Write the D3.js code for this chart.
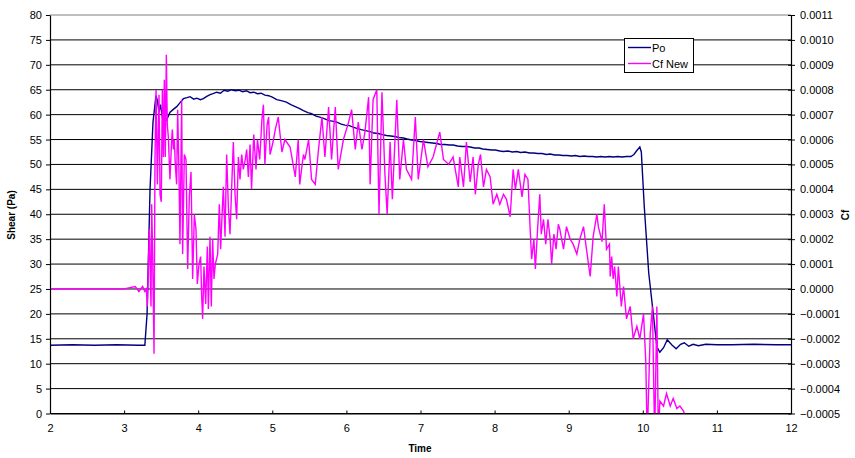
<!DOCTYPE html>
<html>
<head>
<meta charset="utf-8">
<script src="https://cdn.jsdelivr.net/npm/d3@7"></script>
<style>
  html, body { margin: 0; padding: 0; background: #fff; }
  text { font-family: Arial, "Liberation Sans", sans-serif; }
</style>
</head>
<body>
<svg id="chart" width="855" height="458"></svg>
<script>
// ---------- DATA ----------
const xTicks = [2, 3, 4, 5, 6, 7, 8, 9, 10, 11, 12];
const leftTicks = [0, 5, 10, 15, 20, 25, 30, 35, 40, 45, 50, 55, 60, 65, 70, 75, 80];
const rightTicks = [-0.0005, -0.0004, -0.0003, -0.0002, -0.0001, 0, 0.0001, 0.0002, 0.0003, 0.0004, 0.0005, 0.0006, 0.0007, 0.0008, 0.0009, 0.0010, 0.0011];

const poTime = [2.0, 2.3, 2.6, 2.9, 3.2, 3.28, 3.31, 3.35, 3.39, 3.43, 3.45, 3.47, 3.49, 3.53, 3.57, 3.62, 3.66, 3.71, 3.75, 3.80,
  3.85, 3.89, 3.94, 3.98, 4.03, 4.07, 4.11, 4.16, 4.20, 4.25, 4.30, 4.35, 4.40, 4.45, 4.50, 4.55, 4.60, 4.65, 4.70, 4.75,
  4.80, 4.85, 4.90, 4.95, 5.00, 5.06, 5.12, 5.19, 5.25, 5.31, 5.37, 5.42, 5.48, 5.53, 5.59, 5.64, 5.70, 5.76, 5.81, 5.87,
  5.93, 5.98, 6.04, 6.09, 6.15, 6.20, 6.26, 6.32, 6.37, 6.43, 6.48, 6.54, 6.60, 6.65, 6.71, 6.77, 6.82, 6.88, 6.93, 6.99,
  7.05, 7.10, 7.16, 7.22, 7.27, 7.33, 7.39, 7.44, 7.50, 7.56, 7.62, 7.67, 7.73, 7.79, 7.84, 7.90, 7.96, 8.01, 8.07, 8.12,
  8.18, 8.24, 8.30, 8.35, 8.41, 8.47, 8.53, 8.58, 8.64, 8.70, 8.75, 8.81, 8.87, 8.92, 8.98, 9.04, 9.09, 9.15, 9.21, 9.26,
  9.32, 9.38, 9.43, 9.49, 9.55, 9.60, 9.66, 9.72, 9.78, 9.84, 9.88, 9.92, 9.96, 9.98, 10.02, 10.08, 10.14, 10.19, 10.23, 10.28,
  10.33, 10.39, 10.45, 10.51, 10.56, 10.62, 10.68, 10.75, 10.85, 11.0, 11.2, 11.5, 11.8, 12.0];
const poValues = [13.7, 13.8, 13.7, 13.8, 13.7, 13.7, 20, 45, 58.5, 63.8, 62.8, 60.5, 62, 58.3, 58.8, 60.5, 61, 61.6, 62.3, 63.2,
  63.4, 63.6, 63.1, 63.3, 63.0, 63.2, 63.6, 64.0, 64.2, 64.5, 64.3, 64.9, 64.7, 65.0, 64.8, 64.9, 64.6, 64.8, 64.4, 64.5,
  64.2, 64.3, 63.9, 63.8, 63.5, 63.0, 62.8, 62.5, 62.0, 61.6, 61.2, 60.8, 60.4, 60.2, 59.7, 59.5, 59.2, 58.8, 58.7, 58.5,
  58.1, 57.9, 57.8, 57.5, 57.2, 57.0, 56.8, 56.6, 56.3, 56.2, 56.0, 55.8, 55.7, 55.6, 55.4, 55.3, 55.1, 54.9, 54.8, 54.6,
  54.5, 54.4, 54.3, 54.2, 54.0, 54.0, 53.9, 53.9, 53.7, 53.6, 53.6, 53.5, 53.3, 53.3, 53.1, 53.0, 52.9, 52.9, 52.7, 52.6,
  52.7, 52.5, 52.6, 52.4, 52.5, 52.3, 52.3, 52.2, 52.2, 52.0, 52.1, 51.9, 51.9, 51.8, 51.8, 51.7, 51.8, 51.6, 51.7, 51.6,
  51.6, 51.5, 51.6, 51.5, 51.6, 51.5, 51.6, 51.5, 51.6, 51.6, 52.0, 52.8, 53.5, 52.5, 41.5, 28.2, 20.2, 13.4, 12.3, 13.2,
  14.8, 13.8, 13.0, 13.9, 14.2, 13.5, 13.9, 13.6, 13.9, 13.8, 13.8, 13.9, 13.8, 13.8];

const cfTime = [2.00, 2.50, 3.00, 3.15, 3.20, 3.25, 3.28, 3.30, 3.314, 3.340, 3.363, 3.372, 3.386, 3.404, 3.417, 3.431, 3.449, 3.471, 3.485, 3.502,
  3.516, 3.530, 3.543, 3.556, 3.570, 3.583, 3.597, 3.619, 3.642, 3.651, 3.665, 3.678, 3.691, 3.709, 3.723, 3.741, 3.754, 3.777, 3.790, 3.813,
  3.835, 3.858, 3.880, 3.903, 3.925, 3.948, 3.970, 3.988, 4.011, 4.033, 4.047, 4.060, 4.078, 4.101, 4.123, 4.137, 4.159, 4.177, 4.195, 4.213,
  4.231, 4.263, 4.285, 4.303, 4.321, 4.339, 4.362, 4.384, 4.407, 4.429, 4.452, 4.474, 4.497, 4.519, 4.542, 4.564, 4.587, 4.609, 4.636, 4.654,
  4.677, 4.70, 4.72, 4.75, 4.78, 4.80, 4.83, 4.86, 4.88, 4.90, 4.93, 4.95, 4.97, 5.01, 5.04, 5.08, 5.13, 5.17, 5.24, 5.31,
  5.35, 5.37, 5.42, 5.44, 5.49, 5.53, 5.58, 5.62, 5.67, 5.71, 5.76, 5.80, 5.85, 5.89, 5.96, 6.03, 6.07, 6.12, 6.16, 6.21,
  6.25, 6.30, 6.32, 6.36, 6.41, 6.44, 6.48, 6.52, 6.55, 6.59, 6.62, 6.68, 6.72, 6.77, 6.81, 6.88, 6.93, 6.97, 7.04, 7.10,
  7.17, 7.26, 7.31, 7.38, 7.44, 7.51, 7.53, 7.58, 7.62, 7.67, 7.71, 7.74, 7.78, 7.81, 7.85, 7.89, 7.94, 7.98, 8.03, 8.07,
  8.12, 8.16, 8.21, 8.25, 8.28, 8.32, 8.37, 8.41, 8.45, 8.48, 8.50, 8.53, 8.55, 8.58, 8.61, 8.63, 8.66, 8.69, 8.72, 8.75,
  8.77, 8.80, 8.83, 8.86, 8.88, 8.93, 8.97, 9.02, 9.06, 9.11, 9.15, 9.20, 9.24, 9.29, 9.33, 9.38, 9.40, 9.45, 9.48, 9.51,
  9.55, 9.56, 9.58, 9.60, 9.62, 9.65, 9.67, 9.71, 9.74, 9.78, 9.83, 9.87, 9.92, 9.96, 10.01, 10.04, 10.06, 10.10, 10.13, 10.16,
  10.19, 10.21, 10.23, 10.28, 10.32, 10.37, 10.41, 10.46, 10.50, 10.55, 10.58];
const cfValues = [0, 0, 0, 0.00001, -0.00001, 0.00001, -0.00001, 0, -0.00007, 0.00024, -0.00007, 0.00034, 0.00013, -0.00026, 0.00052, 0.00080, 0.00042, 0.00078, 0.00038, 0.00035,
  0.00080, 0.00053, 0.00084, 0.00053, 0.00094, 0.00066, 0.00061, 0.00044, 0.00060, 0.00064, 0.00056, 0.00060, 0.00050, 0.00042, 0.00072, 0.00046, 0.00018, 0.00076, 0.00014, 0.00054,
  0.00052, 0.00008, 0.00037, 0.00047, 0.00004, 0.00030, 0.00024, 0.00002, 0.00010, 0.00013, -0.00003, -0.00012, 0.00009, -0.00006, 0.00017, -0.00008, 0.00021, -0.00007, 0.00020, 0.00004,
  0.00010, 0.00014, 0.00034, 0.00016, 0.00029, 0.00041, 0.00021, 0.00054, 0.00033, 0.00022, 0.00041, 0.00059, 0.00038, 0.00028, 0.00053, 0.00044, 0.00054, 0.00048, 0.00052, 0.00056,
  0.00045, 0.00058, 0.00040, 0.00062, 0.00048, 0.00060, 0.00052, 0.00068, 0.00074, 0.00050, 0.00066, 0.00069, 0.00054, 0.00059, 0.00064, 0.00069, 0.00055, 0.00060, 0.00057, 0.00045,
  0.00060, 0.00042, 0.00054, 0.00052, 0.00060, 0.00044, 0.00042, 0.00055, 0.00069, 0.00053, 0.00073, 0.00052, 0.00073, 0.00048, 0.00060, 0.00067, 0.00072, 0.00056, 0.00067, 0.00056,
  0.00063, 0.00077, 0.00042, 0.00076, 0.00080, 0.00030, 0.00079, 0.00046, 0.00030, 0.00059, 0.00036, 0.00076, 0.00044, 0.00060, 0.00048, 0.00044, 0.00069, 0.00044, 0.00060, 0.00049,
  0.00053, 0.00063, 0.00052, 0.00050, 0.00053, 0.00041, 0.00053, 0.00041, 0.00059, 0.00043, 0.00053, 0.00038, 0.00050, 0.00054, 0.00041, 0.00048, 0.00045, 0.00034, 0.00038, 0.00034,
  0.00038, 0.00036, 0.00029, 0.00048, 0.00040, 0.00048, 0.00037, 0.00046, 0.00044, 0.00024, 0.00012, 0.00020, 0.00008, 0.00024, 0.00038, 0.00022, 0.00028, 0.00018, 0.00028, 0.00020,
  0.00010, 0.00022, 0.00016, 0.00026, 0.00024, 0.00016, 0.00025, 0.00020, 0.00018, 0.00014, 0.00020, 0.00025, 0.00016, 0.00005, 0.00021, 0.00030, 0.00025, 0.00019, 0.00034, 0.00016,
  0.00018, 0.00005, 0.00013, 0.00004, 0.00009, -0.00003, 0.00009, -0.00007, 0.00001, -0.00012, -0.00007, -0.00020, -0.00015, -0.00020, -0.00010, -0.00029, -0.00060, -0.00018, -0.00007, -0.00060,
  -0.00007, -0.00060, -0.00045, -0.00047, -0.00042, -0.00047, -0.00044, -0.00048, -0.00047, -0.00049, -0.00052];

const seriesNames = ["Po", "Cf New"];
const seriesColors = ["#000080", "#FF00FF"];

// ---------- LAYOUT ----------
const svg = d3.select("#chart");
const plot = { left: 50, right: 791, top: 15, bottom: 413.5 };

const x = d3.scaleLinear().domain([2, 12]).range([plot.left, plot.right]);
const yL = d3.scaleLinear().domain([0, 80]).range([plot.bottom, plot.top]);
const yR = d3.scaleLinear().domain([-0.0005, 0.0011]).range([plot.bottom, plot.top]);

// gridlines
svg.append("g").selectAll("line").data(leftTicks).join("line")
  .attr("x1", plot.left).attr("x2", plot.right)
  .attr("y1", d => yL(d)).attr("y2", d => yL(d))
  .attr("stroke", d => d === 80 ? "#808080" : "#000")
  .attr("stroke-width", 1);

// clip
svg.append("defs").append("clipPath").attr("id", "clip")
  .append("rect").attr("x", plot.left).attr("y", plot.top)
  .attr("width", plot.right - plot.left).attr("height", plot.bottom - plot.top);

const g = svg.append("g").attr("clip-path", "url(#clip)");

const poData = poTime.map((t, i) => [t, poValues[i]]);
const cfData = cfTime.map((t, i) => [t, cfValues[i]]);

g.append("path").datum(poData)
  .attr("fill", "none").attr("stroke", seriesColors[0]).attr("stroke-width", 1.4)
  .attr("d", d3.line().x(d => x(d[0])).y(d => yL(d[1])));

g.append("path").datum(cfData)
  .attr("fill", "none").attr("stroke", seriesColors[1]).attr("stroke-width", 1.4)
  .attr("d", d3.line().x(d => x(d[0])).y(d => yR(d[1])));

// axes
const fmtR = d3.format(".4f");
const axL = svg.append("g").attr("transform", `translate(${plot.left},0)`)
  .call(d3.axisLeft(yL).tickValues(leftTicks).tickSize(4).tickPadding(4).tickSizeOuter(0));
const axR = svg.append("g").attr("transform", `translate(${plot.right},0)`)
  .call(d3.axisRight(yR).tickValues(rightTicks).tickFormat(fmtR).tickSize(4).tickPadding(5).tickSizeOuter(0));
axR.selectAll(".tick line").attr("x1", -3);
const axB = svg.append("g").attr("transform", `translate(0,${plot.bottom})`)
  .call(d3.axisBottom(x).tickValues(xTicks).tickSize(3).tickPadding(8).tickSizeOuter(0));
axB.selectAll(".tick line").attr("y1", -3).attr("y2", 0);

[axL, axR, axB].forEach(a => {
  a.select(".domain").attr("stroke", "#000").attr("stroke-width", 1.2);
  a.selectAll(".tick line").attr("stroke", "#000");
  a.selectAll("text").attr("font-family", "Arial, 'Liberation Sans', sans-serif")
    .attr("font-size", 11).attr("fill", "#000");
});

// titles
svg.append("text").attr("transform", "translate(15,215) rotate(-90)")
  .attr("text-anchor", "middle").attr("font-size", 10).attr("font-weight", "bold").text("Shear (Pa)");
svg.append("text").attr("transform", "translate(849,215) rotate(-90)")
  .attr("text-anchor", "middle").attr("font-size", 10).attr("font-weight", "bold").text("Cf");
svg.append("text").attr("x", 420).attr("y", 452)
  .attr("text-anchor", "middle").attr("font-size", 10).attr("font-weight", "bold").text("Time");

// legend
const lg = svg.append("g");
lg.append("rect").attr("x", 624.5).attr("y", 38.5).attr("width", 69).attr("height", 34)
  .attr("fill", "#fff").attr("stroke", "#000").attr("stroke-width", 1);
seriesNames.forEach((name, i) => {
  const yy = 47.5 + i * 16;
  lg.append("line").attr("x1", 628).attr("x2", 651).attr("y1", yy).attr("y2", yy)
    .attr("stroke", seriesColors[i]).attr("stroke-width", 1.4);
  lg.append("text").attr("x", 652).attr("y", yy + 4).attr("font-size", 11).text(name);
});
</script>
</body>
</html>
